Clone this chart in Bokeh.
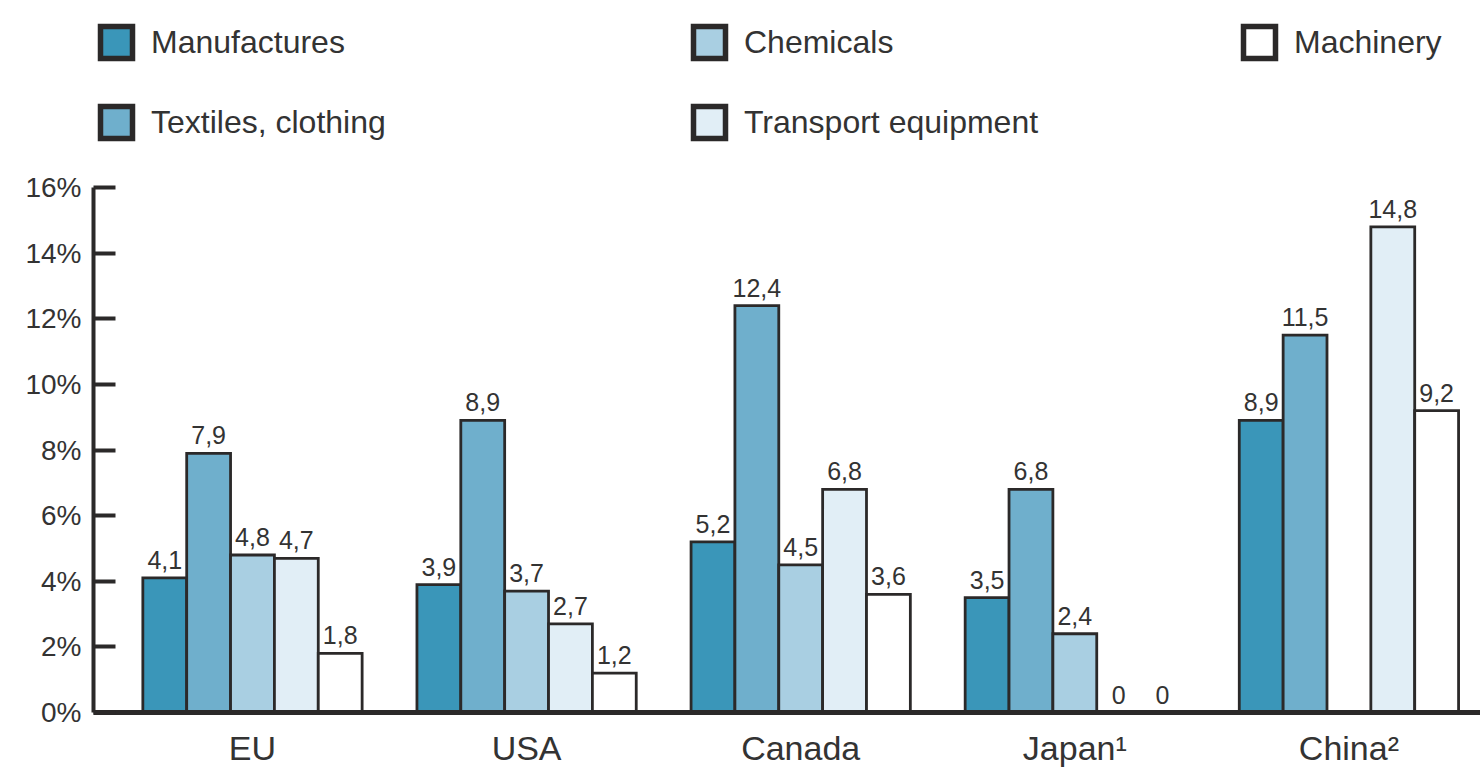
from bokeh.plotting import figure
from bokeh.layouts import column
from bokeh.models import (Range1d, FixedTicker, PrintfTickFormatter, Legend, LegendItem,
                          ColumnDataSource)
from bokeh.embed import file_html
from bokeh.resources import INLINE
import math

categories = ["EU", "USA", "Canada", "Japan¹", "China²"]
series = ["Manufactures", "Textiles, clothing", "Chemicals", "Transport equipment", "Machinery"]
manufactures = [4.1, 3.9, 5.2, 3.5, 8.9]
textiles = [7.9, 8.9, 12.4, 6.8, 11.5]
chemicals = [4.8, 3.7, 4.5, 2.4, float("nan")]
transport = [4.7, 2.7, 6.8, 0.0, 14.8]
machinery = [1.8, 1.2, 3.6, 0.0, 9.2]
y_ticks = [0, 2, 4, 6, 8, 10, 12, 14, 16]

values = [manufactures, textiles, chemicals, transport, machinery]
colors = ["#3a96b9", "#6fafcc", "#a9cfe2", "#e1eef6", "#ffffff"]
edge = "#2b2929"
text_col = "#333333"
FONT = "Liberation Sans"

bar_w = 0.16
offsets = [-0.32, -0.16, 0.0, 0.16, 0.32]

# ---------- legend strip ----------
lf = figure(width=1480, height=170, output_backend="svg", toolbar_location=None,
            x_axis_type=None, y_axis_type=None, x_range=Range1d(0, 1), y_range=Range1d(0, 1),
            min_border_left=0, min_border_right=0, min_border_top=0, min_border_bottom=0)
lf.outline_line_color = None
lf.xgrid.visible = False
lf.ygrid.visible = False

leg_r = []
for s, col in zip(series, colors):
    # swatch renderer used only for the legend glyph; muted with a transparent muted glyph
    src = ColumnDataSource(dict(x=[0.5], top=[0.5]))
    r = lf.vbar(x="x", top="top", bottom=0, width=0.1, fill_color=col,
                line_color=edge, line_width=5.5, line_join="miter", source=src,
                muted_fill_alpha=0, muted_line_alpha=0)
    r.muted = True
    leg_r.append(r)

def make_legend(items, loc):
    lg = Legend(items=[LegendItem(label=series[i], renderers=[leg_r[i]]) for i in items],
                location=loc, orientation="vertical", glyph_width=40, glyph_height=40,
                label_height=40, spacing=40, padding=0, margin=0, label_standoff=15,
                border_line_color=None, background_fill_alpha=0,
                label_text_font_size="32px", label_text_color=text_col,
                label_text_font=FONT, click_policy="none")
    lf.add_layout(lg, "center")

# frames are aligned with the chart below, so x is measured from x=93
make_legend([0, 1], (3, 28))
make_legend([2, 3], (596, 28))
make_legend([4], (1146, 108))

# ---------- chart ----------
p = figure(width=1480, height=599, output_backend="svg", toolbar_location=None,
           x_range=Range1d(-0.58, 4.48), y_range=Range1d(0, 16),
           min_border_left=93, min_border_right=0, min_border_top=17, min_border_bottom=55)
p.outline_line_color = None
p.xgrid.visible = False
p.ygrid.visible = False

cat_idx = list(range(len(categories)))

for s, vals, col, off in zip(series, values, colors, offsets):
    xs = [i + off for i in cat_idx]
    src = ColumnDataSource(dict(x=xs, top=vals))
    p.vbar(x="x", top="top", bottom=0, width=bar_w, source=src,
           fill_color=col, line_color=edge, line_width=2.8, line_join="miter")
    lx, ly, lt = [], [], []
    for x, v in zip(xs, vals):
        if v is None or (isinstance(v, float) and math.isnan(v)):
            continue
        lx.append(x)
        ly.append(v)
        lt.append("0" if v == 0 else f"{v:.1f}".replace(".", ","))
    p.text(x=lx, y=ly, text=lt, text_align="center", text_baseline="bottom",
           y_offset=-9, text_font_size="25px", text_color=text_col,
           text_font={"value": FONT})

xa = p.xaxis[0]
xa.ticker = FixedTicker(ticks=cat_idx)
xa.major_label_overrides = {i: c for i, c in zip(cat_idx, categories)}
xa.major_tick_line_color = None
xa.minor_tick_line_color = None
xa.axis_line_width = 5
xa.axis_line_color = edge
xa.major_label_text_font_size = "34px"
xa.major_label_text_font = FONT
xa.major_label_text_color = text_col
xa.major_label_standoff = 10

ya = p.yaxis[0]
ya.ticker = FixedTicker(ticks=y_ticks)
ya.formatter = PrintfTickFormatter(format="%d%%")
ya.major_tick_in = 22
ya.major_tick_out = 0
ya.major_tick_line_width = 4
ya.major_tick_line_color = edge
ya.minor_tick_line_color = None
ya.axis_line_width = 4
ya.axis_line_color = edge
ya.major_label_text_font_size = "28px"
ya.major_label_text_font = FONT
ya.major_label_text_color = text_col
ya.major_label_standoff = 12

layout = column(lf, p, spacing=0)
open("out.html", "w").write(file_html(layout, INLINE))
